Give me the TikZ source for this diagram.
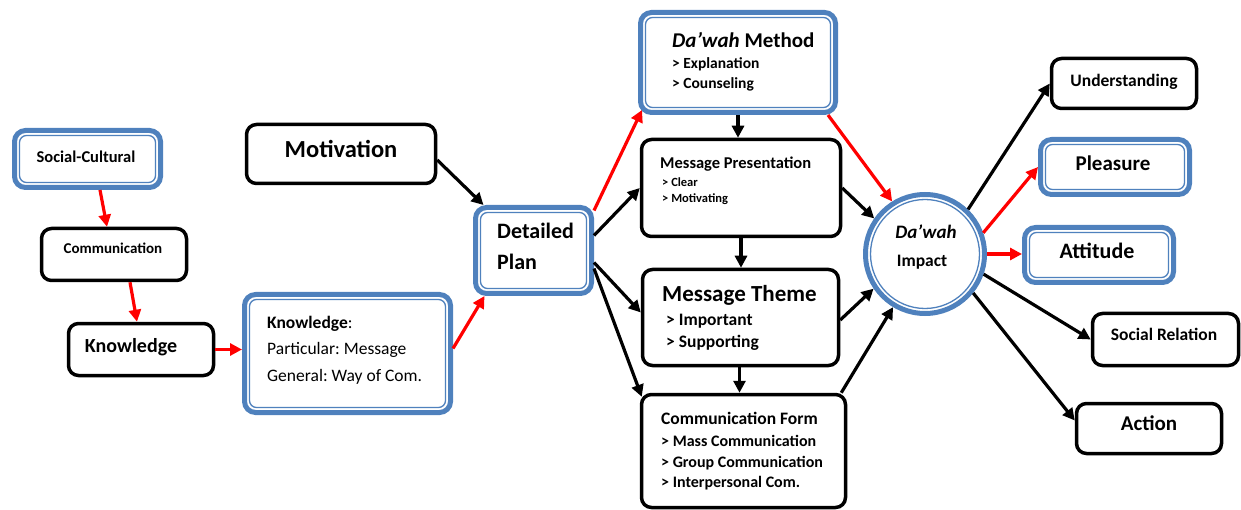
\documentclass[tikz,border=0pt]{standalone}
\usepackage{fontspec}
\setmainfont{Carlito}
\usetikzlibrary{arrows.meta,calc}
\definecolor{blueC}{HTML}{4F81BD}
\definecolor{redC}{HTML}{FF0000}
\newcommand\Fsz[1]{\fontsize{#1}{#1}\selectfont}
\frenchspacing
\begin{document}
\begin{tikzpicture}[x=1pt,y=-1pt,
  bbox/.style={draw=black, line width=3.5pt, rounded corners=10pt, fill=white, inner sep=0pt},
  bluebox/.style={draw=blueC, line width=5pt, rounded corners=11pt, fill=white, inner sep=0pt,
    path picture={\draw[blueC, line width=1.3pt, rounded corners=7pt]
      ([shift={(5pt,-5pt)}]path picture bounding box.north west) rectangle
      ([shift={(-5pt,5pt)}]path picture bounding box.south east);}},
  bluecirc/.style={circle, draw=blueC, line width=5pt, fill=white, inner sep=0pt,
    path picture={\draw[blueC, line width=1.3pt]
      (path picture bounding box.center) circle[radius=54.5pt];}},
  arr/.style={line width=3.2pt, -{Triangle[length=12pt,width=12pt]}},
  blk/.style={arr, draw=black},
  rd/.style={arr, draw=redC},
  lt/.style={inner sep=0pt, anchor=mid west, font=\bfseries, yshift=-3pt},
  ct/.style={inner sep=0pt, anchor=mid, font=\bfseries, yshift=-3pt},
]
\useasboundingbox (0,0) rectangle (1241,510);

% boxes
\node[bluebox, minimum width=146pt, minimum height=57pt] (sc) at (87.5,159) {};
\node[bbox, minimum width=145pt, minimum height=52pt] (comm) at (114,254.5) {};
\node[bbox, minimum width=145pt, minimum height=52pt] (kn) at (141,349.5) {};
\node[bluebox, minimum width=206pt, minimum height=118pt] (kd) at (347.5,353.5) {};
\node[bbox, minimum width=189pt, minimum height=59pt] (mot) at (341,154) {};
\node[bluebox, minimum width=116pt, minimum height=86pt] (dp) at (533.5,250.5) {};
\node[bluebox, minimum width=195pt, minimum height=100pt] (dm) at (738,62.5) {};
\node[bbox, minimum width=199pt, minimum height=97pt] (mp) at (741,188) {};
\node[bbox, minimum width=196pt, minimum height=96pt] (mt) at (740.5,317.5) {};
\node[bbox, minimum width=204pt, minimum height=113pt] (cf) at (743.5,451) {};
\node[bluecirc, minimum size=119pt] (imp) at (925,254) {};
\node[bbox, minimum width=145pt, minimum height=50pt] (und) at (1124,83.5) {};
\node[bluebox, minimum width=149pt, minimum height=55pt] (pl) at (1115,167) {};
\node[bluebox, minimum width=149pt, minimum height=55pt] (att) at (1099,255) {};
\node[bbox, minimum width=146pt, minimum height=52pt] (sr) at (1165.5,339.5) {};
\node[bbox, minimum width=145pt, minimum height=50pt] (act) at (1149,428.5) {};

% texts
\node[ct, font=\bfseries\Fsz{16.5}] (tsc) at (86,157) {Social-Cultural};
\node[ct, font=\bfseries\Fsz{15}] (tcomm) at (113,248) {Communication};
\node[ct, font=\bfseries\Fsz{20}] (tkn) at (131,347) {Knowledge};
\node[lt, font=\Fsz{17.5}] (tkd1) at (267,323) {\textbf{Knowledge}:};
\node[lt, font=\Fsz{17.5}] (tkd2) at (267,349) {Particular: Message};
\node[lt, font=\Fsz{17.5}] (tkd3) at (267,376) {General: Way of Com.};
\node[ct, font=\bfseries\Fsz{24.5}] (tmot) at (341,152) {Motivation};
\node[lt, font=\bfseries\Fsz{22}] (tdp1) at (497,233) {Detailed};
\node[lt, font=\bfseries\Fsz{22}] (tdp2) at (497,264) {Plan};
\node[lt, font=\bfseries\Fsz{21}] (tdm1) at (672,42) {\textit{Da’wah} Method};
\node[lt, font=\bfseries\Fsz{15.5}] (tdm2) at (672,63) {> Explanation};
\node[lt, font=\bfseries\Fsz{15.5}] (tdm3) at (672,83) {> Counseling};
\node[lt, font=\bfseries\Fsz{16.5}] (tmp1) at (660,163) {Message Presentation};
\node[lt, font=\bfseries\Fsz{12.5}] (tmp2) at (662,181) {> Clear};
\node[lt, font=\bfseries\Fsz{12.5}] (tmp3) at (662,197) {> Motivating};
\node[lt, font=\bfseries\Fsz{23}] (tmt1) at (662,296) {Message Theme};
\node[lt, font=\bfseries\Fsz{17.5}] (tmt2) at (666,320) {> Important};
\node[lt, font=\bfseries\Fsz{17.5}] (tmt3) at (666,342) {> Supporting};
\node[lt, font=\bfseries\Fsz{17.5}] (tcf1) at (661,419) {Communication Form};
\node[lt, font=\bfseries\Fsz{16}] (tcf2) at (661,441) {> Mass Communication};
\node[lt, font=\bfseries\Fsz{16}] (tcf3) at (661,462) {> Group Communication};
\node[lt, font=\bfseries\Fsz{16}] (tcf4) at (661,482) {> Interpersonal Com.};
\node[ct, font=\bfseries\itshape\Fsz{19}] (timp1) at (926,233) {Da’wah};
\node[ct, font=\bfseries\Fsz{17.5}] (timp2) at (922,261) {Impact};
\node[ct, font=\bfseries\Fsz{17.5}] (tund) at (1124,81) {Understanding};
\node[ct, font=\bfseries\Fsz{21}] (tpl) at (1113,165) {Pleasure};
\node[ct, font=\bfseries\Fsz{22}] (tatt) at (1097,253) {Attitude};
\node[ct, font=\bfseries\Fsz{17.5}] (tsr) at (1164,335) {Social Relation};
\node[ct, font=\bfseries\Fsz{21}] (tact) at (1149,425) {Action};

% connectors
\draw[rd] ([xshift=12.5pt]sc.south) -- ([xshift=-7pt]comm.north);
\draw[rd] ([xshift=16pt]comm.south) -- ([xshift=-4pt]kn.north);
\draw[rd] (kn.east) -- (kn.east -| kd.west);
\draw[rd] ([yshift=5pt]kd.east) -- ([xshift=-49pt]dp.south);
\draw[blk] ([yshift=-6pt]mot.east) -- ([xshift=-50pt]dp.north);
\draw[rd] ([yshift=40pt]dp.east) -- ([shift={(4pt,5pt)}]dm.south west);
\draw[blk] ([yshift=15pt]dp.east) -- (mp.west);
\draw[blk] ([yshift=-12pt]dp.east) -- ([yshift=5pt]mt.west);
\draw[blk] ([yshift=-18pt]dp.east) -- ([shift={(2pt,-4pt)}]cf.north west);
\draw[blk] (dm.south) -- (dm.south |- mp.north);
\draw[blk] (mp.south) -- (mp.south |- mt.north);
\draw[blk] ([xshift=-1pt]mt.south) -- ([xshift=-1pt]mt.south |- cf.north);
\draw[rd] ([xshift=-10pt]dm.south east) -- (imp.122);
\draw[blk] (mp.east) -- (imp.145);
\draw[blk] ([yshift=-2.5pt]mt.east) -- (imp.214);
\draw[blk] ([xshift=-6pt]cf.north east) -- (imp.239);
\draw[blk] (imp.46) -- (und.west);
\draw[rd] (imp.20) -- (pl.west);
\draw[rd] (imp.east) -- (imp.east -| att.west);
\draw[blk] (imp.-19) -- (sr.west);
\draw[blk] (imp.-39) -- ([yshift=8pt]act.west);
\end{tikzpicture}
\end{document}
